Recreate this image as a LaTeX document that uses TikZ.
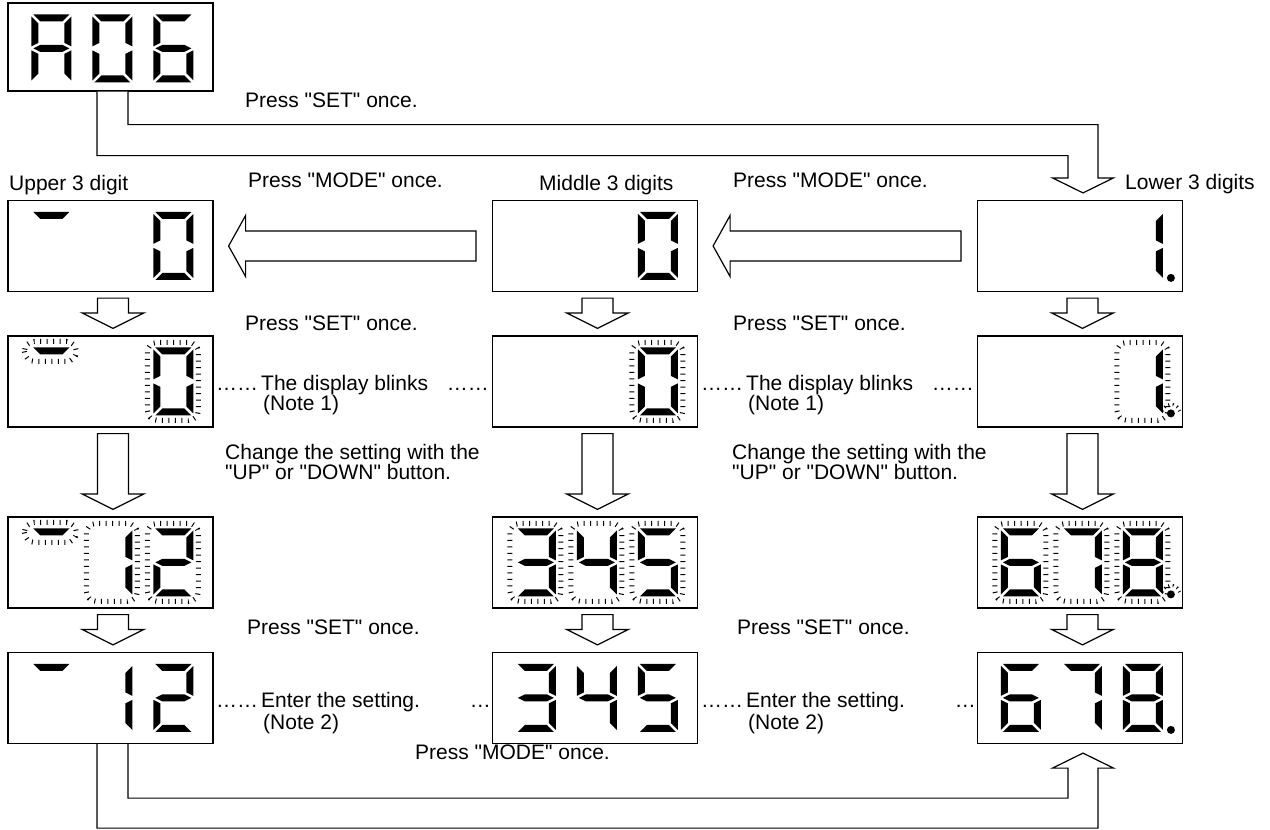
\documentclass[tikz,border=0pt]{standalone}
\usepackage{fontspec}
\newfontfamily\lblfont{Liberation Sans}
\usetikzlibrary{calc}

% segments of one digit, 40 wide and 68 high, y runs downwards
\newcommand\segpatha{(2,0)--(38,0)--(31,7)--(9,7)--cycle}
\newcommand\segpathb{(40,2)--(40,32)--(33,28.5)--(33,9)--cycle}
\newcommand\segpathc{(40,36)--(40,66)--(33,59)--(33,39.5)--cycle}
\newcommand\segpathd{(2,68)--(38,68)--(31,61)--(9,61)--cycle}
\newcommand\segpathe{(0,36)--(0,66)--(7,59)--(7,39.5)--cycle}
\newcommand\segpathf{(0,2)--(0,32)--(7,28.5)--(7,9)--cycle}
\newcommand\segpathg{(2,34)--(9,30.5)--(31,30.5)--(38,34)--(31,37.5)--(9,37.5)--cycle}
\newcommand\segpathp{(48,66) circle [radius=4]}

\tikzset{
  dispbox/.style={draw, line width=1.2pt, fill=white, minimum width=205pt, minimum height=91pt, inner sep=0pt},
  blockarrow/.style={draw, line width=1.2pt, fill=white, line join=miter},
  blink/.style={line width=5pt, dash pattern=on 1pt off 5.5pt, rounded corners=10pt},
  lbl/.style={font=\lblfont\fontsize{21}{20}\selectfont, inner sep=0pt, anchor=base west},
  pics/digit/.style={code={\foreach \s in {#1} {\fill \csname segpath\s\endcsname;}}},
  pics/ring/.style={code={\draw[blink] (-6,-5) rectangle (45,73);}},
  pics/segring/.style={code={\draw[blink] (-7,-6) rectangle (45,14);}},
  pics/dotring/.style={code={\draw[blink, line width=3pt, dash pattern=on 1pt off 3.5pt] (48,66) ++(-165:9) arc[start angle=-165, end angle=-15, radius=9];}},
}

% #1 box, #2 position 0..2, #3 pic
\newcommand\showdigit[3]{\pic at ($(#1.north west)+(24+61*#2,12)$) {#3};}

\newcommand\blockdown[2]{%
  \draw[blockarrow] let \p1=($(#1.south)+(2.5,6)$), \p2=($(#2.north)+(2.5,-7)$) in
    (\x1-15.5pt,\y1) -- (\x1-15.5pt,\y2+15.5pt) -- (\x1-31pt,\y2+15.5pt) -- (\x2,\y2)
    -- (\x1+31pt,\y2+15.5pt) -- (\x1+15.5pt,\y2+15.5pt) -- (\x1+15.5pt,\y1) -- cycle;}

\newcommand\blockleft[2]{%
  \draw[blockarrow] let \p1=($(#1.west)+(-16,0)$), \p2=($(#2.east)+(15,0)$) in
    (\x1,\y1+15pt) -- (\x2+17pt,\y1+15pt) -- (\x2+17pt,\y1+30.5pt) -- (\x2,\y1)
    -- (\x2+17pt,\y1-30.5pt) -- (\x2+17pt,\y1-15pt) -- (\x1,\y1-15pt) -- cycle;}

\begin{document}
\begin{tikzpicture}[x=1pt,y=-1pt]
    \useasboundingbox (0,0) rectangle (1270,830);

    % displays
    \node[dispbox, minimum height=88pt] (start) at (110.5,47) {};
    \node[dispbox] (up1) at (110.5,246) {};
    \node[dispbox] (mid1) at (595,246) {};
    \node[dispbox] (low1) at (1080,246) {};
    \node[dispbox] (up2) at (110.5,381.5) {};
    \node[dispbox] (mid2) at (595,381.5) {};
    \node[dispbox] (low2) at (1080,381.5) {};
    \node[dispbox] (up3) at (110.5,562.5) {};
    \node[dispbox] (mid3) at (595,562.5) {};
    \node[dispbox] (low3) at (1080,562.5) {};
    \node[dispbox] (up4) at (110.5,698) {};
    \node[dispbox] (mid4) at (595,698) {};
    \node[dispbox] (low4) at (1080,698) {};

    % A06
    \showdigit{start}{0}{digit={a,b,c,e,f,g}}
    \showdigit{start}{1}{digit={a,b,c,d,e,f}}
    \showdigit{start}{2}{digit={a,c,d,e,f,g}}

    % first row
    \showdigit{up1}{0}{digit={a}}
    \showdigit{up1}{2}{digit={a,b,c,d,e,f}}
    \showdigit{mid1}{2}{digit={a,b,c,d,e,f}}
    \showdigit{low1}{2}{digit={b,c,p}}

    % second row, blinking
    \showdigit{up2}{0}{digit={a}}
    \showdigit{up2}{0}{segring}
    \showdigit{up2}{2}{digit={a,b,c,d,e,f}}
    \showdigit{up2}{2}{ring}
    \showdigit{mid2}{2}{digit={a,b,c,d,e,f}}
    \showdigit{mid2}{2}{ring}
    \showdigit{low2}{2}{digit={b,c,p}}
    \showdigit{low2}{2}{ring}
    \showdigit{low2}{2}{dotring}

    % third row, blinking
    \showdigit{up3}{0}{digit={a}}
    \showdigit{up3}{0}{segring}
    \showdigit{up3}{1}{digit={b,c}}
    \showdigit{up3}{1}{ring}
    \showdigit{up3}{2}{digit={a,b,d,e,g}}
    \showdigit{up3}{2}{ring}
    \showdigit{mid3}{0}{digit={a,b,c,d,g}}
    \showdigit{mid3}{0}{ring}
    \showdigit{mid3}{1}{digit={b,c,f,g}}
    \showdigit{mid3}{1}{ring}
    \showdigit{mid3}{2}{digit={a,c,d,f,g}}
    \showdigit{mid3}{2}{ring}
    \showdigit{low3}{0}{digit={a,c,d,e,f,g}}
    \showdigit{low3}{0}{ring}
    \showdigit{low3}{1}{digit={a,b,c}}
    \showdigit{low3}{1}{ring}
    \showdigit{low3}{2}{digit={a,b,c,d,e,f,g,p}}
    \showdigit{low3}{2}{ring}
    \showdigit{low3}{2}{dotring}

    % fourth row
    \showdigit{up4}{0}{digit={a}}
    \showdigit{up4}{1}{digit={b,c}}
    \showdigit{up4}{2}{digit={a,b,d,e,g}}
    \showdigit{mid4}{0}{digit={a,b,c,d,g}}
    \showdigit{mid4}{1}{digit={b,c,f,g}}
    \showdigit{mid4}{2}{digit={a,c,d,f,g}}
    \showdigit{low4}{0}{digit={a,c,d,e,f,g}}
    \showdigit{low4}{1}{digit={a,b,c}}
    \showdigit{low4}{2}{digit={a,b,c,d,e,f,g,p}}

    % arrows
    \draw[blockarrow] let \p1=($(start.south)+(2,0)$), \p2=($(low1.north)+(3,-7)$) in
        (\x1-15.5pt,\y1) -- (\x1-15.5pt,\y1-64pt) -- (\x2-15pt,\y1-64pt) -- (\x2-15pt,\y2+15pt)
        -- (\x2-30.5pt,\y2+15pt) -- (\x2,\y2) -- (\x2+30.5pt,\y2+15pt) -- (\x2+15pt,\y2+15pt)
        -- (\x2+15pt,\y1-33pt) -- (\x1+15.5pt,\y1-33pt) -- (\x1+15.5pt,\y1);
    \blockleft{mid1}{up1}
    \blockleft{low1}{mid1}
    \blockdown{up1}{up2}
    \blockdown{mid1}{mid2}
    \blockdown{low1}{low2}
    \blockdown{up2}{up3}
    \blockdown{mid2}{mid3}
    \blockdown{low2}{low3}
    \blockdown{up3}{up4}
    \blockdown{mid3}{mid4}
    \blockdown{low3}{low4}
    \draw[blockarrow] let \p1=($(up4.south)+(2,0)$), \p2=($(low4.south)+(3,9)$) in
        (\x1-15.5pt,\y1) -- (\x1-15.5pt,\y1-84pt) -- (\x2+15pt,\y1-84pt) -- (\x2+15pt,\y2-15pt)
        -- (\x2+30.5pt,\y2-15pt) -- (\x2,\y2) -- (\x2-30.5pt,\y2-15pt) -- (\x2-15pt,\y2-15pt)
        -- (\x2-15pt,\y1-54pt) -- (\x1+15.5pt,\y1-54pt) -- (\x1+15.5pt,\y1);

    % texts
    \node[lbl] (setfirst) at (245,107.5) {Press "SET" once.};
    \node[lbl] (upper) at (9,190.5) {Upper 3 digit};
    \node[lbl] (modeleft) at (248,187.5) {Press "MODE" once.};
    \node[lbl] (middle) at (539,190.5) {Middle 3 digits};
    \node[lbl] (moderight) at (733,187.5) {Press "MODE" once.};
    \node[lbl] (lower) at (1125,189.5) {Lower 3 digits};
    \node[lbl] (setleft) at (245,330.5) {Press "SET" once.};
    \node[lbl] (setright) at (733,330.5) {Press "SET" once.};
    \node[lbl] (blinkleft) at (216,390.5) {……\hspace{3pt}The display blinks};
    \node[lbl] (noteleft) at (263,410.5) {(Note 1)};
    \node[lbl, anchor=base east] (dotsleft) at (489,390.5) {……};
    \node[lbl] (blinkright) at (701,390.5) {……\hspace{3pt}The display blinks};
    \node[lbl] (noteright) at (748,410.5) {(Note 1)};
    \node[lbl, anchor=base east] (dotsright) at (974,390.5) {……};
    \node[lbl] (changeleft) at (225,459.5) {Change the setting with the};
    \node[lbl] (buttonleft) at (225,479.5) {"UP" or "DOWN" button.};
    \node[lbl] (changeright) at (732,459.5) {Change the setting with the};
    \node[lbl] (buttonright) at (732,479.5) {"UP" or "DOWN" button.};
    \node[lbl] (enterleftset) at (247,634.5) {Press "SET" once.};
    \node[lbl] (enterrightset) at (737,634.5) {Press "SET" once.};
    \node[lbl] (enterleft) at (216,707.5) {……\hspace{3pt}Enter the setting.};
    \node[lbl] (noteenterleft) at (263,729.5) {(Note 2)};
    \node[lbl, anchor=base east] (ellleft) at (491,707.5) {…};
    \node[lbl] (enterright) at (701,707.5) {……\hspace{3pt}Enter the setting.};
    \node[lbl] (noteenterright) at (748,729.5) {(Note 2)};
    \node[lbl, anchor=base east] (ellright) at (976,707.5) {…};
    \node[lbl] (modebottom) at (415,759.5) {Press "MODE" once.};
\end{tikzpicture}
\end{document}
